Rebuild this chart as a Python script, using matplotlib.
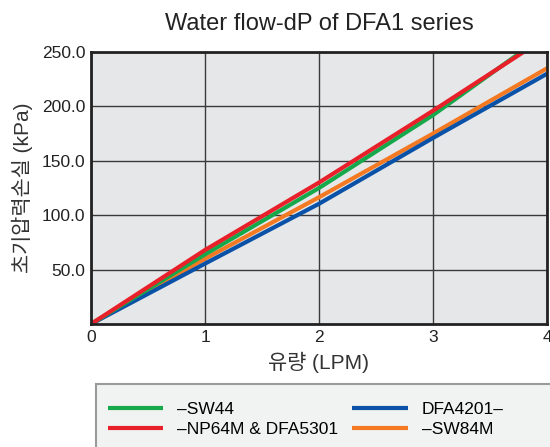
import numpy as np
import matplotlib
matplotlib.use("Agg")
import matplotlib.pyplot as plt
from matplotlib.patches import Rectangle

plt.rcParams['font.family'] = ['Liberation Sans', 'Noto Sans CJK KR', 'DejaVu Sans']

# 유량 (LPM) vs 초기압력손실 (kPa)
flow = [0, 1, 2, 3, 4]
sw44 = [0, 64, 125, 192, 267]
np64m = [0, 68, 130, 196, 264]
dfa4201 = [0, 55.5, 110.5, 171, 230]
sw84m = [0, 60, 116.5, 175, 235]

labels = ['–SW44', '–NP64M & DFA5301', 'DFA4201–', '–SW84M']
colors = ['#16a94c', '#e8202a', '#0a52a8', '#f37a22']
series = [sw44, np64m, dfa4201, sw84m]

fig = plt.figure(figsize=(5.5, 4.47), dpi=100)
ax = fig.add_axes([91/550, 1-324/447, 456/550, 272/447])
ax.set_facecolor('#e6e7e9')

# 그리는 순서: 주황, 파랑 아래 / 초록, 빨강 위
order = [3, 2, 0, 1]
handles = {}
for i in order:
    ln, = ax.plot(flow, series[i], color=colors[i], lw=3, label=labels[i],
                  solid_capstyle='butt')
    handles[i] = ln

ax.set_xlim(0, 4)
ax.set_ylim(0, 250)
ax.set_xticks([0, 1, 2, 3, 4])
ax.set_yticks([50, 100, 150, 200, 250])
ax.set_yticklabels(['%.1f' % v for v in [50, 100, 150, 200, 250]])
ax.tick_params(length=0, labelsize=12.5, pad=4, colors='#222')
ax.grid(True, color='#3a3a3a', lw=1)
ax.set_axisbelow(True)
for s in ax.spines.values():
    s.set_linewidth(2)
    s.set_color('#222')

ax.set_title('Water flow-dP of DFA1 series', fontsize=17, pad=16, color='#222')
ax.set_xlabel('유량 (LPM)', fontsize=15, labelpad=5, color='#333')
ax.set_ylabel('초기압력손실 (kPa)', fontsize=15, labelpad=6, color='#333')

# 범례 박스
fig.patches.append(Rectangle((96/550, -0.02), 470/550, (447-384)/447 + 0.02,
                             transform=fig.transFigure, facecolor='#f1f2f2',
                             edgecolor='#9a9a9a', lw=1.5, zorder=0))
fig.legend([handles[i] for i in range(4)], labels, ncol=2, frameon=False,
           loc='upper left', bbox_to_anchor=(92/550, 1-386/447),
           fontsize=12.5, handlelength=3.2, handletextpad=0.8,
           columnspacing=0.8, labelspacing=0.3)

fig.savefig('out.png', dpi=100)
